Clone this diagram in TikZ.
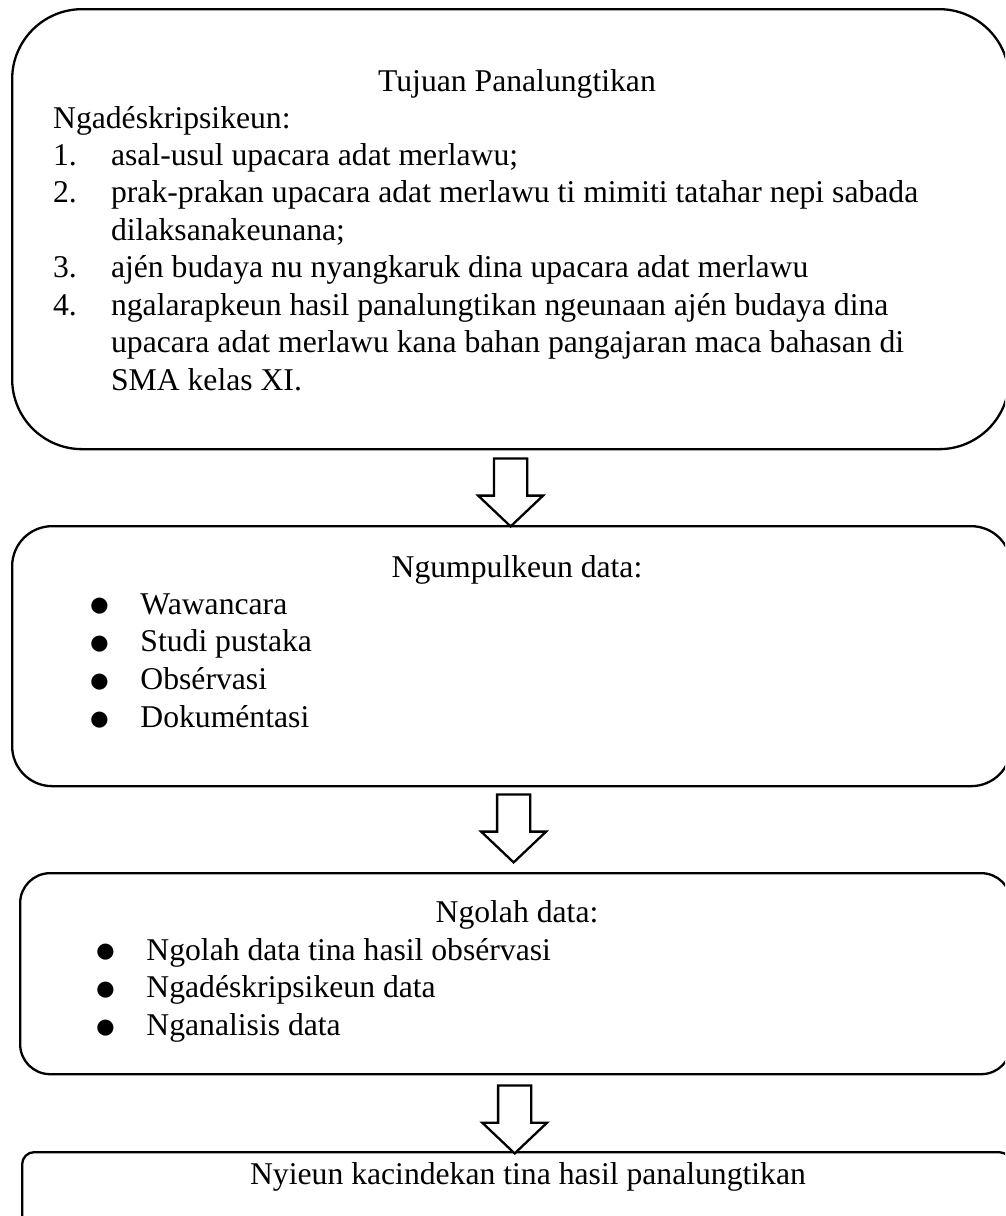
\documentclass[tikz,border=0pt]{standalone}
\usepackage{fontspec}
\setmainfont{Liberation Serif}
\usepackage{graphicx}
\usetikzlibrary{positioning,calc,shapes.arrows}

\tikzset{
  box/.style={rectangle, draw, anchor=north west, inner sep=0pt},
  txt/.style={inner sep=0pt, font=\fontsize{12.35}{14.6}\selectfont},
  txtb/.style={inner sep=0pt, font=\fontsize{12.35}{14.8}\selectfont},
  blockarrow/.style={single arrow, draw, fill=white, shape border rotate=270,
    single arrow head extend=6.2pt, single arrow tip angle=93,
    minimum height=26.5pt, inner sep=6pt, anchor=tail}
}
\newcommand{\bul}{\raisebox{-1pt}{\scalebox{1.35}{$\bullet$}}}

\begin{document}
\begin{tikzpicture}[x=0.39pt,y=-0.39pt,line width=0.9pt]
  \path[use as bounding box] (0,0) rectangle (1005,1216);
  \clip (0,0) rectangle (1005,1216);

  % the four boxes
  \node (goal) [box, rounded corners=27.3pt, minimum width=388.8pt, minimum height=171.6pt] at (11,8) {};
  \node (collect) [box, rounded corners=15.6pt, minimum width=389.6pt, minimum height=101.4pt] at (11,525) {};
  \node (process) [box, rounded corners=11.7pt, minimum width=386.5pt, minimum height=78.4pt] at (19,872) {};
  \node (conclude) [box, rounded corners=4.7pt, minimum width=385.7pt, minimum height=42.9pt] at (21,1151) {};

  % texts
  \node (goaltitle) [txt, anchor=base] at (517,91) {Tujuan Panalungtikan};
  \node (goallist) [txt, anchor=base west] at (52,128) {%
    \begin{tabular}[t]{@{}p{22.6pt}@{}l@{}}
      \multicolumn{2}{@{}l@{}}{Ngadéskripsikeun:}\\
      1. & asal-usul upacara adat merlawu;\\
      2. & prak-prakan upacara adat merlawu ti mimiti tatahar nepi sabada\\
         & dilaksanakeunana;\\
      3. & ajén budaya nu nyangkaruk dina upacara adat merlawu\\
      4. & ngalarapkeun hasil panalungtikan ngeunaan ajén budaya dina\\
         & upacara adat merlawu kana bahan pangajaran maca bahasan di\\
         & SMA kelas XI.
    \end{tabular}};

  \node (collecttitle) [txtb, anchor=base] at (517,577) {Ngumpulkeun data:};
  \node (collectlist) [txtb, anchor=base west] at (88,614) {%
    \begin{tabular}[t]{@{}p{20pt}@{}l@{}}
      \bul & Wawancara\\
      \bul & Studi pustaka\\
      \bul & Obsérvasi\\
      \bul & Dokuméntasi
    \end{tabular}};

  \node (processtitle) [txtb, anchor=base] at (517,922) {Ngolah data:};
  \node (processlist) [txtb, anchor=base west] at (94,960) {%
    \begin{tabular}[t]{@{}p{20pt}@{}l@{}}
      \bul & Ngolah data tina hasil obsérvasi\\
      \bul & Ngadéskripsikeun data\\
      \bul & Nganalisis data
    \end{tabular}};

  \node (concludetext) [txt, anchor=base] at (528,1184) {Nyieun kacindekan tina hasil panalungtikan};

  % block arrows between the boxes
  \node (arrowa) [blockarrow] at ($(goal.south)+(0,7)$) {};
  \node (arrowb) [blockarrow] at ($(collect.south)+(2,6)$) {};
  \node (arrowc) [blockarrow] at ($(process.south)+(-1,9)$) {};
\end{tikzpicture}
\end{document}
